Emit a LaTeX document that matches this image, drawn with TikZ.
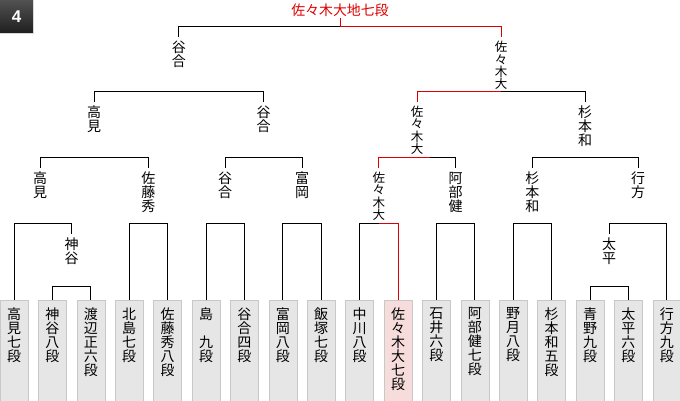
\documentclass[tikz,border=0pt]{standalone}
\usepackage{fontspec}
\newfontfamily\jp{Noto Sans CJK JP}
\newfontfamily\badgefont{Liberation Sans}
\usetikzlibrary{positioning}
\definecolor{winred}{HTML}{DD0000}
\definecolor{boxgray}{HTML}{E6E6E6}
\definecolor{boxline}{HTML}{C8C8C8}
\definecolor{winpink}{HTML}{F7DCDC}

\begin{document}
\begin{tikzpicture}[x=1pt, y=-1pt,
  every node/.style={font=\jp\fontsize{14}{14}\selectfont\lineskiplimit-20pt},
  player/.style={align=center, anchor=north, inner xsep=0pt, inner ysep=4pt},
  tight/.style={player, font=\jp\fontsize{12.5}{12.3}\selectfont\lineskiplimit-20pt},
  slot/.style={draw=boxline, fill=#1, minimum width=28pt, minimum height=104pt, anchor=north, inner sep=0pt},
  slottxt/.style={align=center, anchor=north, inner sep=0pt},
  bar/.style={line width=1pt},
  win/.style={line width=1pt, draw=winred}
]
\useasboundingbox (0,0) rectangle (680,400);
\clip (0,0) rectangle (680,400);

% Round badge
\shade[top color={black!68}, bottom color={black!88}] (0,0) rectangle (33,33);
\draw[black!15] (33.5,0) -- (33.5,33.5) -- (0,33.5);
\node[text=white, font=\badgefont\bfseries\fontsize{17}{17}\selectfont] (badge) at (16.5,16.5) {4};

% Entry boxes
\foreach \i/\fc/\txt in {
  0/boxgray/{高\\見\\七\\段}, 1/boxgray/{神\\谷\\八\\段}, 2/boxgray/{渡\\辺\\正\\六\\段},
  3/boxgray/{北\\島\\七\\段}, 4/boxgray/{佐\\藤\\秀\\八\\段}, 5/boxgray/{島\\\mbox{}\\九\\段},
  6/boxgray/{谷\\合\\四\\段}, 7/boxgray/{富\\岡\\八\\段}, 8/boxgray/{飯\\塚\\七\\段},
  9/boxgray/{中\\川\\八\\段}, 10/winpink/{佐\\々\\木\\大\\七\\段}, 11/boxgray/{石\\井\\六\\段},
  12/boxgray/{阿\\部\\健\\七\\段}, 13/boxgray/{野\\月\\八\\段}, 14/boxgray/{杉\\本\\和\\五\\段},
  15/boxgray/{青\\野\\九\\段}, 16/boxgray/{太\\平\\六\\段}, 17/boxgray/{行\\方\\九\\段}}{
  \node[slot=\fc] (b\i) at ({14+38.4*\i},300) {};
  \node[slottxt] (t\i) at ([yshift=-7.5pt]b\i.north) {\txt};
}

% Winners
\node[text=winred, font=\jp\fontsize{13.9}{14}\selectfont, anchor=south, inner sep=1.5pt] (champ) at (340,18.3) {佐々木大地七段};
\node[player] (tani1)    at (178.9,37.2) {谷\\合};
\node[tight]  (sasaki1)  at (501.2,37.2) {佐\\々\\木\\大};
\node[player] (takami2)  at (94.2,102)   {高\\見};
\node[player] (tani2)    at (263.6,102)  {谷\\合};
\node[tight]  (sasaki2)  at (417.2,102)  {佐\\々\\木\\大};
\node[player] (sugi2)    at (585.2,102)  {杉\\本\\和};
\node[player] (takami3)  at (40,167.8)   {高\\見};
\node[player] (sato3)    at (148.4,167.8) {佐\\藤\\秀};
\node[player] (tani3)    at (225.2,167.8) {谷\\合};
\node[player] (tomioka3) at (302,167.8)  {富\\岡};
\node[tight]  (sasaki3)  at (378.8,167.8) {佐\\々\\木\\大};
\node[player] (abe3)     at (455.6,167.8) {阿\\部\\健};
\node[player] (sugi3)    at (532.4,167.8) {杉\\本\\和};
\node[player] (nameka3)  at (638,167.8)  {行\\方};
\node[player] (kamiya)   at (71.6,233.8) {神\\谷};
\node[player] (taihei)   at (609.2,233.8) {太\\平};

% Bars
\coordinate (m0)  at (340,26.7);
\coordinate (m1a) at (178.9,91.5);
\coordinate (m1b) at (501.2,91.5);
\coordinate (m2a) at (94.2,157.3);
\coordinate (m2b) at (263.6,157.3);
\coordinate (m2c) at (417.2,157.3);
\coordinate (m2r) at (430,157.3);
\coordinate (m2d) at (585.2,157.3);
\coordinate (m3a) at (40,223.3);
\coordinate (m3b) at (148.4,223.3);
\coordinate (m3c) at (225.2,223.3);
\coordinate (m3d) at (302,223.3);
\coordinate (m3e) at (378.8,223.3);
\coordinate (m3f) at (455.6,223.3);
\coordinate (m3g) at (532.4,223.3);
\coordinate (m3h) at (638,223.3);
\coordinate (m4a) at (71.6,286.7);
\coordinate (m4b) at (609.2,286.7);

\draw[bar] (tani1.north) |- (m0) -| (sasaki1.north);
\draw[bar] (takami2.north) |- (m1a) -| (tani2.north);
\draw[bar] (sasaki2.north) |- (m1b) -| (sugi2.north);
\draw[bar] (takami3.north) |- (m2a) -| (sato3.north);
\draw[bar] (tani3.north) |- (m2b) -| (tomioka3.north);
\draw[bar] (sasaki3.north) |- (m2c) -| (abe3.north);
\draw[bar] (sugi3.north) |- (m2d) -| (nameka3.north);
\draw[bar] (b0.north) |- (m3a) -| (kamiya.north);
\draw[bar] (b3.north) |- (m3b) -| (b4.north);
\draw[bar] (b5.north) |- (m3c) -| (b6.north);
\draw[bar] (b7.north) |- (m3d) -| (b8.north);
\draw[bar] (b9.north) |- (m3e) -| (b10.north);
\draw[bar] (b11.north) |- (m3f) -| (b12.north);
\draw[bar] (b13.north) |- (m3g) -| (b14.north);
\draw[bar] (taihei.north) |- (m3h) -| (b17.north);
\draw[bar] (b1.north) |- (m4a) -| (b2.north);
\draw[bar] (b15.north) |- (m4b) -| (b16.north);

% Winner path
\draw[win] (champ.south) -- (m0) -| (sasaki1.north);
\draw[win] (m1b) -| (sasaki2.north);
\draw[win] (m2r) -| (sasaki3.north);
\draw[win] (m3e) -| (b10.north);
\end{tikzpicture}
\end{document}
